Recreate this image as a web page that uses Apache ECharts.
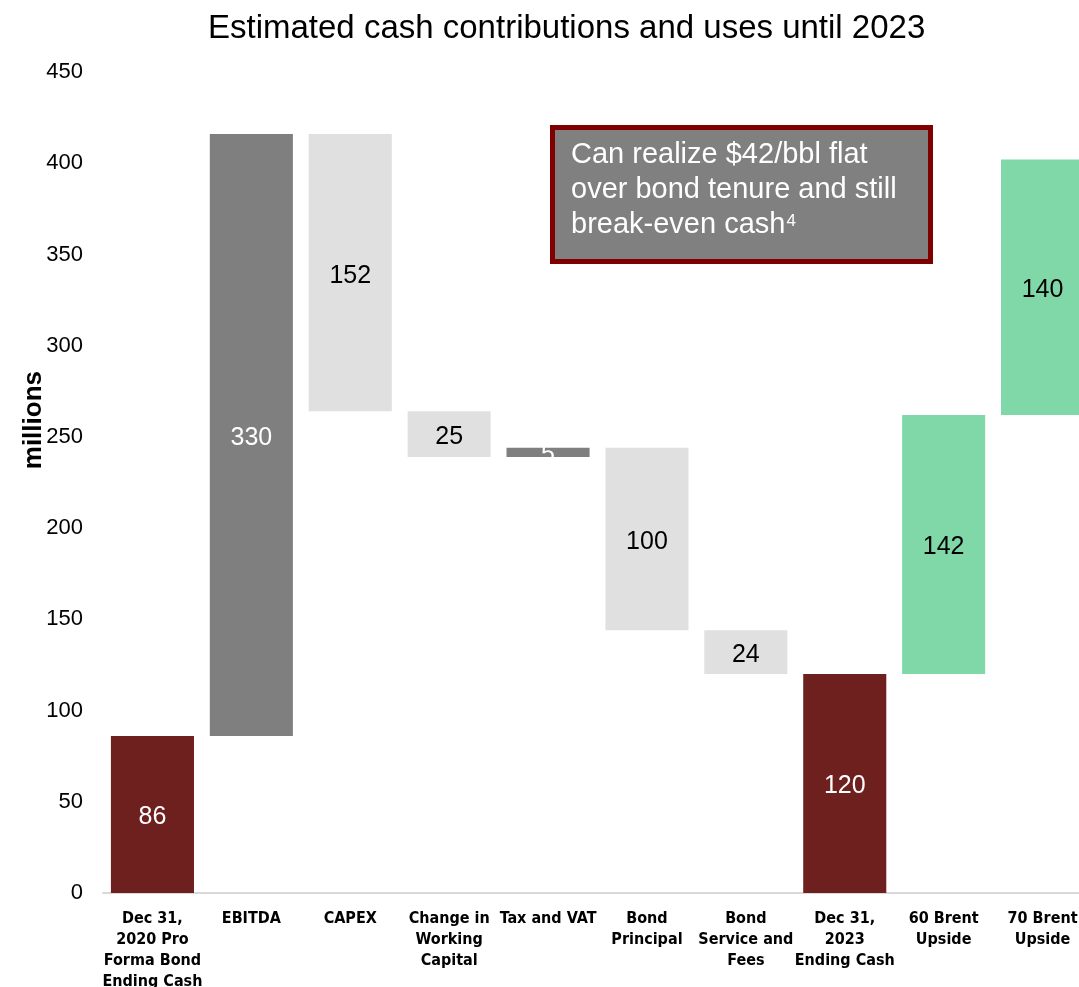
<!DOCTYPE html>
<html>
<head>
<meta charset="utf-8">
<script src="https://cdn.jsdelivr.net/npm/echarts@6/dist/echarts.min.js"></script>
<style>
  html, body { margin: 0; padding: 0; background: #ffffff; }
  #chart { width: 1079px; height: 987px; }
</style>
</head>
<body>
<div id="chart"></div>
<script>
// Waterfall steps (millions). Totals restart from zero; other steps move the running balance.
const categories = [
  'Dec 31,\n2020 Pro\nForma Bond\nEnding Cash',
  'EBITDA',
  'CAPEX',
  'Change in\nWorking\nCapital',
  'Tax and VAT',
  'Bond\nPrincipal',
  'Bond\nService and\nFees',
  'Dec 31,\n2023\nEnding Cash',
  '60 Brent\nUpside',
  '70 Brent\nUpside'
];
const stepValues = [86, 330, -152, -25, 5, -100, -24, 120, 142, 140];
const stepKinds = ['total', 'increase', 'decrease', 'decrease', 'increase', 'decrease', 'decrease', 'total', 'upside', 'upside'];
const yTicks = { min: 0, max: 450, interval: 50 };

const kindColors = {
  total: '#6E201F',
  increase: '#7F7F7F',
  decrease: '#E0E0E0',
  upside: '#80D8A8'
};
const kindLabelColors = {
  total: '#ffffff',
  increase: '#ffffff',
  decrease: '#000000',
  upside: '#000000'
};

// Build invisible bases and visible bar heights from the running balance
const bases = [];
const heights = [];
let running = 0;
stepValues.forEach((v, i) => {
  if (stepKinds[i] === 'total') {
    bases.push(0);
    heights.push(v);
    running = v;
  } else if (v >= 0) {
    bases.push(running);
    heights.push(v);
    running += v;
  } else {
    running += v;
    bases.push(running);
    heights.push(-v);
  }
});

const chart = echarts.init(document.getElementById('chart'), null, { renderer: 'canvas' });

const condensedBold = "'Liberation Sans Narrow', 'DejaVu Sans Condensed', sans-serif";
const sans = "'Liberation Sans', Arial, sans-serif";

chart.setOption({
  animation: false,
  backgroundColor: '#ffffff',
  title: {
    text: 'Estimated cash contributions and uses until 2023',
    left: 203,
    top: 7,
    textStyle: { fontFamily: sans, fontSize: 33, fontWeight: 'normal', color: '#000000' }
  },
  grid: {
    left: 103, top: 72, width: 989, height: 821,
    containLabel: false,
    outerBoundsMode: 'none'
  },
  xAxis: {
    type: 'category',
    data: categories,
    axisLine: { show: true, lineStyle: { color: '#D9D9D9', width: 2 } },
    axisTick: { show: false },
    axisLabel: {
      interval: 0,
      margin: 15,
      fontFamily: condensedBold,
      fontWeight: 'bold',
      fontSize: 16,
      lineHeight: 21,
      color: '#000000',
      align: 'center'
    }
  },
  yAxis: {
    type: 'value',
    min: yTicks.min,
    max: yTicks.max,
    interval: yTicks.interval,
    axisLine: { show: false },
    axisTick: { show: false },
    splitLine: { show: false },
    axisLabel: { margin: 20, fontFamily: sans, fontSize: 22, color: '#000000' }
  },
  series: [
    {
      name: 'base',
      type: 'bar',
      stack: 'cash',
      silent: true,
      barCategoryGap: '16%',
      itemStyle: { color: 'transparent' },
      data: bases
    },
    {
      name: 'step',
      type: 'bar',
      stack: 'cash',
      barCategoryGap: '16%',
      data: heights.map((h, i) => ({
        value: h,
        itemStyle: { color: kindColors[stepKinds[i]] },
        label: { color: kindLabelColors[stepKinds[i]] }
      })),
      label: {
        show: true,
        position: 'inside',
        offset: [0, 3],
        fontFamily: sans,
        fontSize: 25,
        formatter: (p) => String(Math.abs(stepValues[p.dataIndex]))
      }
    }
  ],
  graphic: [
    {
      type: 'text',
      left: 21,
      top: 371,
      rotation: Math.PI / 2,
      style: {
        text: 'millions',
        fontFamily: sans,
        fontSize: 26,
        fontWeight: 'bold',
        fill: '#000000'
      }
    },
    {
      type: 'group',
      left: 550,
      top: 125,
      children: [
        {
          type: 'rect',
          shape: { x: 2.5, y: 2.5, width: 378, height: 134 },
          style: { fill: '#808080', stroke: '#800000', lineWidth: 5 }
        },
        {
          type: 'text',
          x: 21,
          y: 12,
          style: {
            text: 'Can realize $42/bbl flat\nover bond tenure and still\nbreak-even cash{sup|4}',
            fontFamily: sans,
            fontSize: 29,
            lineHeight: 35,
            fill: '#ffffff',
            rich: {
              sup: { fontSize: 17, fill: '#ffffff', verticalAlign: 'top', padding: [6, 0, 0, 1] }
            }
          }
        }
      ]
    }
  ]
});
</script>
</body>
</html>
